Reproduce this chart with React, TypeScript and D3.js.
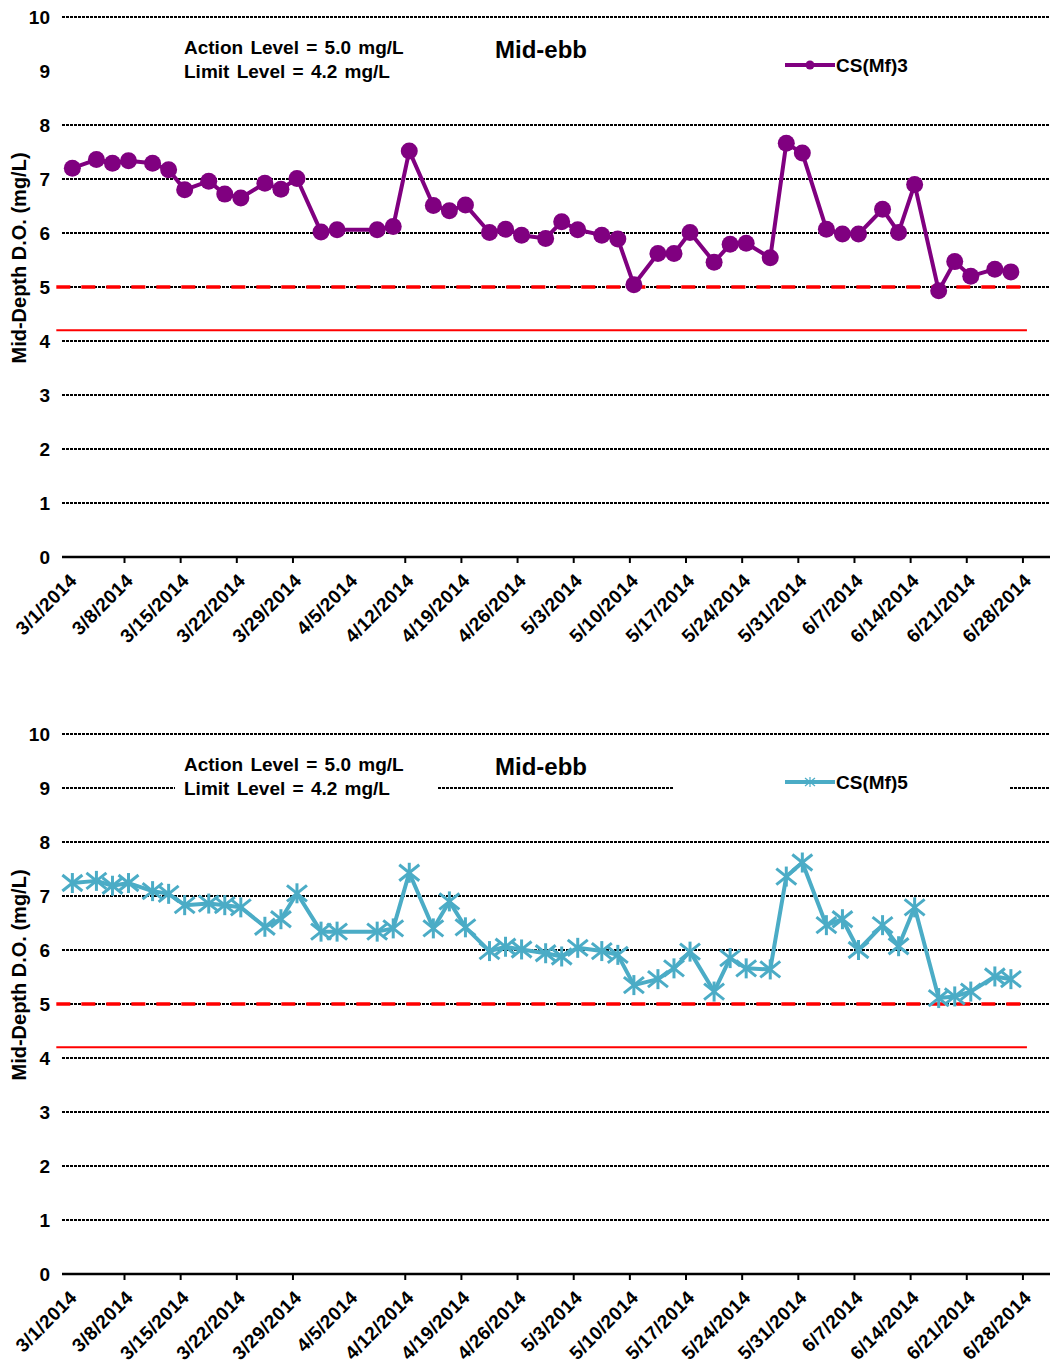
import React from "react";
import * as d3 from "d3";

// ---------- data ----------
const sampleDates = [
  "2014-03-01", "2014-03-04", "2014-03-06", "2014-03-08", "2014-03-11", "2014-03-13", "2014-03-15",
  "2014-03-18", "2014-03-20", "2014-03-22", "2014-03-25", "2014-03-27", "2014-03-29", "2014-04-01",
  "2014-04-03", "2014-04-08", "2014-04-10", "2014-04-12", "2014-04-15", "2014-04-17", "2014-04-19",
  "2014-04-22", "2014-04-24", "2014-04-26", "2014-04-29", "2014-05-01", "2014-05-03", "2014-05-06",
  "2014-05-08", "2014-05-10", "2014-05-13", "2014-05-15", "2014-05-17", "2014-05-20", "2014-05-22",
  "2014-05-24", "2014-05-27", "2014-05-29", "2014-05-31", "2014-06-03", "2014-06-05", "2014-06-07",
  "2014-06-10", "2014-06-12", "2014-06-14", "2014-06-17", "2014-06-19", "2014-06-21", "2014-06-24",
  "2014-06-26",
];

const csMf3 = [
  7.2, 7.36, 7.29, 7.34, 7.29, 7.17, 6.8, 6.96, 6.72, 6.65, 6.92, 6.81, 7.01, 6.02, 6.06, 6.06, 6.12,
  7.52, 6.51, 6.41, 6.52, 6.01, 6.07, 5.96, 5.9, 6.21, 6.06, 5.96, 5.89, 5.04, 5.62, 5.62, 6.01, 5.46,
  5.79, 5.81, 5.54, 7.66, 7.48, 6.07, 5.98, 5.98, 6.44, 6.01, 6.9, 4.93, 5.47, 5.2, 5.33, 5.28,
];

const csMf5 = [
  7.24, 7.28, 7.19, 7.24, 7.09, 7.04, 6.83, 6.86, 6.83, 6.79, 6.43, 6.57, 7.05, 6.34, 6.34, 6.34, 6.4,
  7.43, 6.4, 6.9, 6.42, 5.98, 6.06, 6.01, 5.94, 5.88, 6.04, 5.98, 5.91, 5.35, 5.46, 5.66, 5.97, 5.23,
  5.85, 5.66, 5.64, 7.36, 7.62, 6.46, 6.57, 6.0, 6.46, 6.07, 6.79, 5.11, 5.14, 5.23, 5.51, 5.46,
];

const tickDates = [
  "2014-03-01", "2014-03-08", "2014-03-15", "2014-03-22", "2014-03-29", "2014-04-05", "2014-04-12",
  "2014-04-19", "2014-04-26", "2014-05-03", "2014-05-10", "2014-05-17", "2014-05-24", "2014-05-31",
  "2014-06-07", "2014-06-14", "2014-06-21", "2014-06-28",
];

const yTicks = [0, 1, 2, 3, 4, 5, 6, 7, 8, 9, 10];
const refDates = ["2014-02-27", "2014-06-28"];
const actionLevel = [5.0, 5.0];
const limitLevel = [4.2, 4.2];

const titleText = "Mid-ebb";
const actionText = "Action Level = 5.0 mg/L";
const limitText = "Limit Level = 4.2 mg/L";
const yAxisTitle = "Mid-Depth D.O. (mg/L)";

// ---------- helpers ----------
const parse = d3.timeParse("%Y-%m-%d");
const fmt = d3.timeFormat("%-m/%-d/%Y");
const HALF_DAY = 12 * 3600 * 1000;
const FONT = "'Liberation Sans', Arial, sans-serif";

const X_LEFT = 62;
const X_RIGHT = 1050;

const xScale = d3
  .scaleTime()
  .domain([new Date(2014, 1, 28, 5), new Date(2014, 6, 1, 9)])
  .range([X_LEFT, X_RIGHT]);

type Props = {
  top: number;
  values: number[];
  color: string;
  marker: "circle" | "star";
  legend: string;
  maskSegments: [number, number][];
};

function Star({ x, y, s, color, w }: { x: number; y: number; s: number; color: string; w: number }) {
  return (
    <g stroke={color} strokeWidth={w} strokeLinecap="butt">
      <line x1={x - s} y1={y - s * 0.8} x2={x + s} y2={y + s * 0.8} />
      <line x1={x - s} y1={y + s * 0.8} x2={x + s} y2={y - s * 0.8} />
      <line x1={x} y1={y - s} x2={x} y2={y + s} />
    </g>
  );
}

function Chart({ top, values, color, marker, legend, maskSegments }: Props) {
  const yScale = d3.scaleLinear().domain([0, 10]).range([top + 540, top]);
  const pts = sampleDates.map((d, i) => ({
    x: xScale(new Date(parse(d)!.getTime() + HALF_DAY)),
    y: yScale(values[i]),
  }));
  const line = d3
    .line<{ x: number; y: number }>()
    .x((p) => p.x)
    .y((p) => p.y);

  const refX = refDates.map((d) => xScale(new Date(parse(d)!.getTime() + HALF_DAY)));
  const axisY = yScale(0);
  const y9 = yScale(9);

  return (
    <g>
      {/* gridlines */}
      {yTicks
        .filter((t) => t > 0)
        .map((t) => (
          <line
            key={t}
            x1={X_LEFT}
            x2={X_RIGHT}
            y1={yScale(t)}
            y2={yScale(t)}
            stroke="#000"
            strokeWidth={2}
            strokeDasharray="3 1"
          />
        ))}
      {/* white boxes of text frames covering the 9 gridline */}
      {maskSegments.map(([a, b], i) => (
        <rect key={i} x={a} y={y9 - 4} width={b - a} height={8} fill="#fff" />
      ))}
      {/* y tick labels */}
      {yTicks.map((t) => (
        <text
          key={t}
          x={50}
          y={yScale(t)}
          dy="0.36em"
          textAnchor="end"
          fontFamily={FONT}
          fontWeight="bold"
          fontSize={19}
          fill="#000"
        >
          {t}
        </text>
      ))}
      {/* x axis */}
      <line x1={X_LEFT} x2={X_RIGHT} y1={axisY} y2={axisY} stroke="#000" strokeWidth={2.5} />
      {tickDates.map((d, i) => {
        const x = xScale(parse(d)!);
        return (
          <g key={d}>
            {i > 0 && d !== "2014-04-05" && (
              <line x1={x} x2={x} y1={axisY} y2={axisY + 6} stroke="#000" strokeWidth={2} />
            )}
            <text
              transform={`translate(${x + 5},${axisY + 20}) rotate(-45)`}
              textAnchor="end"
              dy="0.35em"
              fontFamily={FONT}
              fontWeight="bold"
              fontSize={19}
              letterSpacing={0.4}
              fill="#000"
            >
              {fmt(parse(d)!)}
            </text>
          </g>
        );
      })}
      {/* y axis title */}
      <text
        transform={`translate(26,${top + 241}) rotate(-90)`}
        textAnchor="middle"
        fontFamily={FONT}
        fontWeight="bold"
        fontSize={20}
        fill="#000"
      >
        {yAxisTitle}
      </text>
      {/* reference lines */}
      <line
        x1={refX[0]}
        x2={refX[1]}
        y1={yScale(actionLevel[0])}
        y2={yScale(actionLevel[1])}
        stroke="#ff0000"
        strokeWidth={3.5}
        strokeDasharray="14 11"
      />
      <line
        x1={refX[0]}
        x2={refX[1]}
        y1={yScale(limitLevel[0])}
        y2={yScale(limitLevel[1])}
        stroke="#ff0000"
        strokeWidth={2}
      />
      {/* series */}
      <path d={line(pts) || ""} fill="none" stroke={color} strokeWidth={4} strokeLinejoin="round" />
      {pts.map((p, i) =>
        marker === "circle" ? (
          <circle key={i} cx={p.x} cy={p.y} r={8.5} fill={color} />
        ) : (
          <Star key={i} x={p.x} y={p.y} s={10} color={color} w={3} />
        )
      )}
      {/* annotation texts */}
      <text x={184} y={top + 37} fontFamily={FONT} fontWeight="bold" fontSize={19} wordSpacing={2} fill="#000">
        {actionText}
      </text>
      <text x={184} y={top + 61} fontFamily={FONT} fontWeight="bold" fontSize={19} wordSpacing={2} fill="#000">
        {limitText}
      </text>
      <text x={495} y={top + 41} fontFamily={FONT} fontWeight="bold" fontSize={24} fill="#000">
        {titleText}
      </text>
      {/* legend */}
      <line x1={785} x2={835} y1={top + 48} y2={top + 48} stroke={color} strokeWidth={4} />
      {marker === "circle" ? (
        <circle cx={810} cy={top + 48} r={4.5} fill={color} />
      ) : (
        <Star x={810} y={top + 48} s={5} color={color} w={1.2} />
      )}
      <text x={836} y={top + 48} dy="0.36em" fontFamily={FONT} fontWeight="bold" fontSize={19} fill="#000">
        {legend}
      </text>
    </g>
  );
}

export default function App() {
  return (
    <svg
      width={1051}
      height={1363}
      style={{ position: "absolute", left: 0, top: 0, background: "#fff" }}
    >
      <rect width={1051} height={1363} fill="#fff" />
      <Chart
        top={17}
        values={csMf3}
        color="#800080"
        marker="circle"
        legend="CS(Mf)3"
        maskSegments={[[X_LEFT - 1, X_RIGHT + 1]]}
      />
      <Chart
        top={734}
        values={csMf5}
        color="#4bacc6"
        marker="star"
        legend="CS(Mf)5"
        maskSegments={[
          [175, 437],
          [673, 1010],
        ]}
      />
    </svg>
  );
}
